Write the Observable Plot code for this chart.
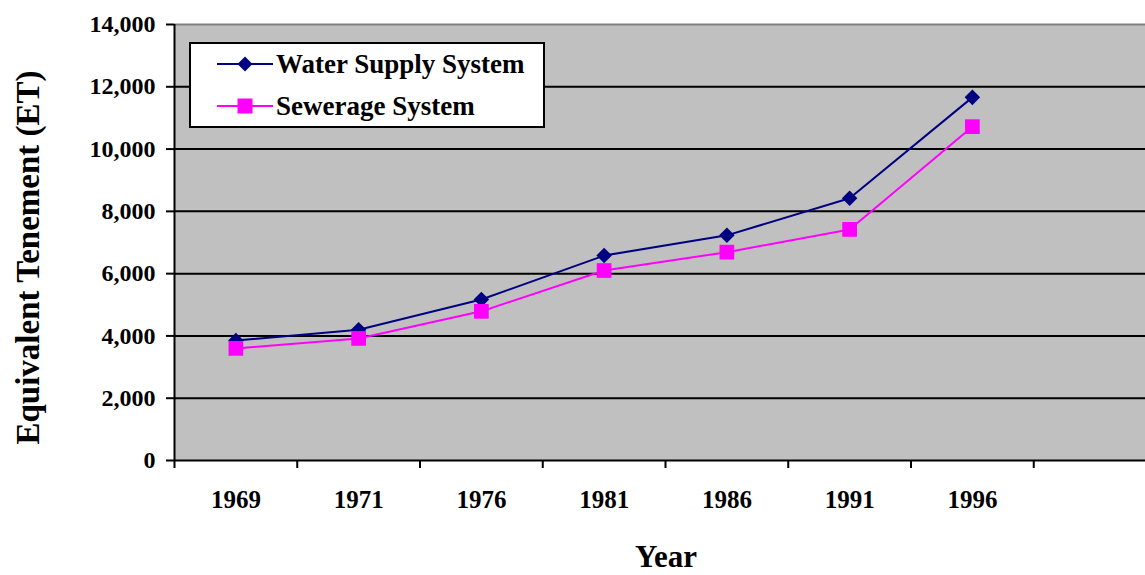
<!DOCTYPE html>
<html>
<head>
<meta charset="utf-8">
<script src="https://cdn.jsdelivr.net/npm/d3@7"></script>
<script src="https://cdn.jsdelivr.net/npm/@observablehq/plot@0.6"></script>
<style>
  html, body { margin: 0; padding: 0; background: #fff; overflow: hidden; }
  #wrap { position: relative; width: 1145px; height: 575px; font-family: "Liberation Serif", "Times New Roman", serif; font-weight: bold; }
  #wrap svg text { font-family: "Liberation Serif", "Times New Roman", serif; font-weight: bold; }
  #legend { position: absolute; left: 189px; top: 42px; width: 352px; height: 82px; background: #fff; border: 2px solid #000; }
  .row { position: absolute; left: 26px; height: 30px; display: flex; align-items: center; font-size: 27px; color: #000; white-space: nowrap; font-family: "Liberation Serif", "Times New Roman", serif; font-weight: bold; }
  .row svg { margin-right: 3px; }
</style>
</head>
<body>
<div id="wrap"></div>
<script>
const years = ["1969", "1971", "1976", "1981", "1986", "1991", "1996"];
const water = [3850, 4200, 5170, 6580, 7230, 8420, 11660];
const sewer = [3600, 3920, 4790, 6100, 6690, 7420, 10720];
const yTicks = [0, 2000, 4000, 6000, 8000, 10000, 12000, 14000];
const seriesNames = ["Water Supply System", "Sewerage System"];
const seriesColors = ["#000080", "#FF00FF"];
const nSlots = 8; // Excel category axis has one empty extra slot

const rowsW = years.map((y, i) => ({i, year: y, value: water[i]}));
const rowsS = years.map((y, i) => ({i, year: y, value: sewer[i]}));
const boundaries = d3.range(0, nSlots + 1);
const centers = years.map((y, i) => i + 0.5);

const font = "'Liberation Serif', 'Times New Roman', serif";

const chart = Plot.plot({
  width: 1145,
  height: 575,
  marginLeft: 174,
  marginRight: 0,
  marginTop: 24,
  marginBottom: 115,
  style: {fontFamily: font, fontWeight: "bold", background: "#fff", overflow: "hidden"},
  x: {type: "linear", domain: [0, nSlots], range: [174, 1156]},
  y: {domain: [0, 14000]},
  marks: [
    Plot.frame({fill: "#C0C0C0", stroke: null}),
    Plot.ruleY(yTicks.filter(d => d > 0 && d < 14000), {stroke: "#000", strokeWidth: 2}),
    Plot.ruleY([14000], {stroke: "#808080", strokeWidth: 2}),
    Plot.ruleY([0], {stroke: "#000", strokeWidth: 2}),
    Plot.ruleX([0], {stroke: "#000", strokeWidth: 2}),
    Plot.axisY({ticks: yTicks, tickSize: 8, tickPadding: 11, tickFormat: d3.format(","), fontSize: 24, stroke: "#000", strokeWidth: 2, label: null, fill: "#000"}),
    Plot.axisX({ticks: boundaries, tickSize: 8, tickFormat: () => "", stroke: "#000", strokeWidth: 2, label: null}),
    Plot.axisX({ticks: centers, tickSize: 0, tickPadding: 30, tickFormat: d => years[Math.floor(d)], fontSize: 25, label: null, fill: "#000"}),
    Plot.line(rowsW, {x: d => d.i + 0.5, y: "value", stroke: seriesColors[0], strokeWidth: 2}),
    Plot.dot(rowsW, {x: d => d.i + 0.5, y: "value", symbol: "diamond2", r: 7, fill: seriesColors[0], stroke: null}),
    Plot.line(rowsS, {x: d => d.i + 0.5, y: "value", stroke: seriesColors[1], strokeWidth: 2}),
    Plot.dot(rowsS, {x: d => d.i + 0.5, y: "value", symbol: "square", r: 8.3, fill: seriesColors[1], stroke: null}),
    Plot.text(["Equivalent Tenement (ET)"], {frameAnchor: "left", rotate: -90, dx: -146, dy: 15, fontSize: 33, fill: "#000", textAnchor: "middle", lineAnchor: "middle"}),
    Plot.text(["Year"], {frameAnchor: "bottom", dx: 6, dy: 97, fontSize: 31, fill: "#000", textAnchor: "middle", lineAnchor: "middle"})
  ]
});

const wrap = document.getElementById("wrap");
wrap.appendChild(chart);

const legend = document.createElement("div");
legend.id = "legend";
seriesNames.forEach((name, k) => {
  const row = document.createElement("div");
  row.className = "row";
  row.style.top = (k === 0 ? 5 : 47) + "px";
  const ns = "http://www.w3.org/2000/svg";
  const s = document.createElementNS(ns, "svg");
  s.setAttribute("width", 56); s.setAttribute("height", 20);
  const ln = document.createElementNS(ns, "line");
  ln.setAttribute("x1", 0); ln.setAttribute("x2", 56); ln.setAttribute("y1", 10); ln.setAttribute("y2", 10);
  ln.setAttribute("stroke", seriesColors[k]); ln.setAttribute("stroke-width", 2);
  s.appendChild(ln);
  const m = document.createElementNS(ns, "path");
  m.setAttribute("d", k === 0 ? "M28,2.5L35.5,10L28,17.5L20.5,10Z" : "M20.5,2.5H35.5V17.5H20.5Z");
  m.setAttribute("fill", seriesColors[k]);
  s.appendChild(m);
  row.appendChild(s);
  const t = document.createElement("span");
  t.textContent = name;
  row.appendChild(t);
  legend.appendChild(row);
});
wrap.appendChild(legend);
</script>
</body>
</html>
